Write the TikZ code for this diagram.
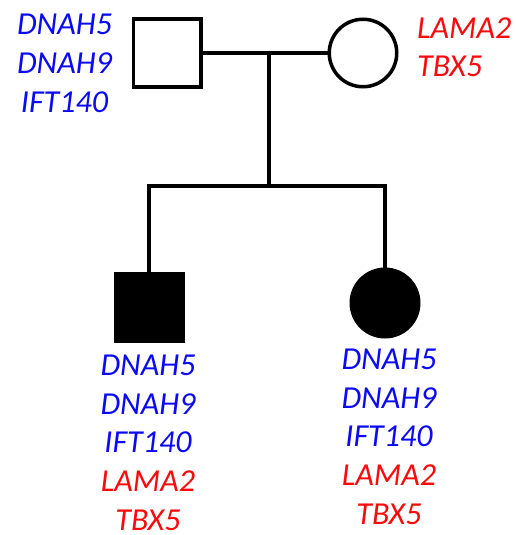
\documentclass[tikz,border=0pt]{standalone}
\usepackage{fontspec}
\setmainfont{Carlito}
\usetikzlibrary{positioning}
\definecolor{patblue}{RGB}{10,10,245}
\definecolor{matred}{RGB}{250,10,10}
\newcommand{\pat}[1]{\textcolor{patblue}{#1}}
\newcommand{\mat}[1]{\textcolor{matred}{#1}}
\tikzset{
  x=1pt,y=-1pt,
  male/.style={draw,line width=3.5pt,minimum size=67.5pt,inner sep=0pt},
  female/.style={circle,draw,line width=3.5pt,minimum size=67.5pt,inner sep=0pt},
  affected/.style={fill=black},
  genes/.style={font=\fontsize{32}{38.6}\selectfont\itshape,inner sep=0pt},
  pline/.style={line width=3.3pt},
}
\begin{document}
\begin{tikzpicture}
  \useasboundingbox (0,0) rectangle (515,535);
  % parents
  \node[male] (father) at (167,53) {};
  \node[female] (mother) at (363,53) {};
  % children
  \node[male,affected] (son) at (149,307) {};
  \node[female,affected] (daughter) at (385,303) {};
  \coordinate (mid) at (269,53);
  \coordinate (sib) at (269,186);
  \draw[pline] (father.east) -- (mother.west);
  \draw[pline] (mid) -- (sib);
  \draw[pline] (son.north) |- (sib) -| (daughter.north);
  % genotypes (anchored at the baseline of the last line)
  \node[genes,align=center,anchor=base] (fatherlbl) at (64.5,112)
    {\pat{DNAH5}\\\pat{DNAH9}\\\pat{IFT140}};
  \node[genes,align=left,anchor=base west] (motherlbl) at (417,77)
    {\mat{LAMA2}\\\mat{TBX5}};
  \node[genes,align=center,anchor=base] (sonlbl) at (148,530)
    {\pat{DNAH5}\\\pat{DNAH9}\\\pat{IFT140}\\\mat{LAMA2}\\\mat{TBX5}};
  \node[genes,align=center,anchor=base] (daughterlbl) at (389,524)
    {\pat{DNAH5}\\\pat{DNAH9}\\\pat{IFT140}\\\mat{LAMA2}\\\mat{TBX5}};
\end{tikzpicture}
\end{document}
